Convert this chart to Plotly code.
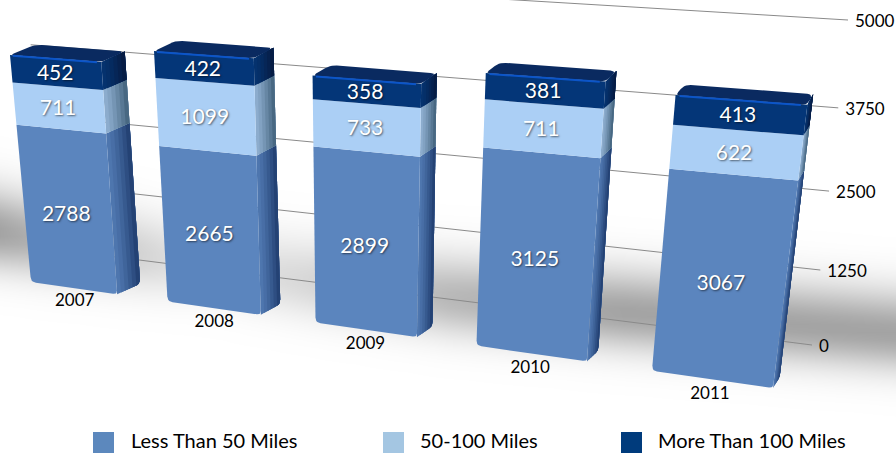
import numpy as np
import plotly.graph_objects as go

# ---- data ----
years = ["2007", "2008", "2009", "2010", "2011"]
less_than_50 = [2788, 2665, 2899, 3125, 3067]
miles_50_100 = [711, 1099, 733, 711, 622]
more_than_100 = [452, 422, 358, 381, 413]
tick_values = [0, 1250, 2500, 3750, 5000]
tick_labels = ["0", "1250", "2500", "3750", "5000"]
series_names = ["Less Than 50 Miles", "50-100 Miles", "More Than 100 Miles"]

# ---- styles ----
FONT = "Lato"
front_cols = ["#5b85be", "#abcff5", "#043678"]
side_near = [(78, 118, 174), (140, 172, 205), (5, 50, 110)]
side_far = [(36, 66, 116), (72, 104, 130), (6, 28, 68)]
top_col = "#0a2a60"
legend_cols = ["#5c88bd", "#a4c6e2", "#003b7c"]
HW = 0.32


def homography(src, dst):
    A, b = [], []
    for (u, v), (x, y) in zip(src, dst):
        A.append([u, v, 1, 0, 0, 0, -u * x, -v * x]); b.append(x)
        A.append([0, 0, 0, u, v, 1, -u * y, -v * y]); b.append(y)
    h = np.linalg.solve(np.array(A, float), np.array(b, float))
    H = np.append(h, 1).reshape(3, 3)

    def f(u, v):
        p = H @ np.array([u, v, 1.0])
        return float(p[0] / p[2]), float(p[1] / p[2])
    return f


# camera: front plane of the bars and the back wall of the chart
front = homography(
    [(-HW, 0), (4 + HW, 0), (-HW, 3951), (4 + HW, 3951)],
    [(31, 282), (773, 388), (10, 55), (806, 116)],
)
wall = homography(
    [(0, 0), (1, 0), (0, 5000), (1, 5000)],
    [(60, 250), (812, 345), (20, -30), (848, 20)],
)


def depth(p, t=1.0):
    return (p[0] + t * (5 + 0.025 * (840 - p[0])), p[1] - t * 10.5)


def rounded(pts, radii, n=6):
    out = []
    m = len(pts)
    for i in range(m):
        p = np.array(pts[i]); a = np.array(pts[i - 1]); b = np.array(pts[(i + 1) % m])
        r = radii[i]
        if r <= 0:
            out.append(tuple(p)); continue
        d1 = (a - p) / np.linalg.norm(a - p); d2 = (b - p) / np.linalg.norm(b - p)
        s = p + d1 * r; e = p + d2 * r
        for t in np.linspace(0, 1, n):
            out.append(tuple((1 - t) ** 2 * s + 2 * t * (1 - t) * p + t ** 2 * e))
    return out


fig = go.Figure()

# soft floor shadow
sx = np.arange(0, 905, 16.0)
sy = np.arange(100, 460, 8.0)
amp_x = [0, 100, 200, 300, 450, 620, 800, 896]
amp_y = [.36, .22, .10, .15, .28, .36, .36, .36]
cen_x = [0, 300, 450, 620, 896]
cen_y = [232, 280, 298, 312, 333]
zz = []
for y in sy:
    row = []
    for x in sx:
        yc = float(np.interp(x, cen_x, cen_y))
        sig = 42 if y < yc else 36
        row.append(float(np.interp(x, amp_x, amp_y) * np.exp(-((y - yc) / sig) ** 2)))
    zz.append(row)
fig.add_trace(go.Heatmap(x=sx, y=sy, z=zz, zmin=0, zmax=1, zsmooth="best", showscale=False,
                         colorscale=[[0, "#ffffff"], [1, "#000000"]], hoverinfo="skip"))


def poly(pts, color):
    xs = [p[0] for p in pts] + [pts[0][0]]
    ys = [p[1] for p in pts] + [pts[0][1]]
    fig.add_trace(go.Scatter(x=xs, y=ys, mode="lines", fill="toself", fillcolor=color,
                             line=dict(width=0, color=color), hoverinfo="skip", showlegend=False))


# gridlines on the back wall
for v in tick_values:
    a, b = wall(0, v), wall(1, v)
    fig.add_trace(go.Scatter(x=[a[0], b[0]], y=[a[1], b[1]], mode="lines",
                             line=dict(color="#8a8a8a", width=1), hoverinfo="skip", showlegend=False))

# tick labels
tx, ty = [], []
for v in tick_values:
    p = wall(1, v)
    tx.append(p[0] + 7); ty.append(p[1] + 2.5)
fig.add_trace(go.Scatter(x=tx, y=ty, mode="text", text=tick_labels, textposition="middle right",
                         textfont=dict(family=FONT, size=17, color="#000000"),
                         hoverinfo="skip", showlegend=False))

# bars
N_STRIPS = 6
lab_x, lab_y, lab_t = [], [], []
cat_x, cat_y = [], []
for i, yr in enumerate(years):
    vals = [less_than_50[i], miles_50_100[i], more_than_100[i]]
    base = 0
    for s, val in enumerate(vals):
        top = base + val
        bl, br = front(i - HW, base), front(i + HW, base)
        tl, tr = front(i - HW, top), front(i + HW, top)
        # side face: overlapping layers, each reaching the back edge, so no seams appear
        for k in range(N_STRIPS):
            t0 = k / N_STRIPS
            mix = (k / (N_STRIPS - 1)) ** 1.2
            rgb = [round(a + (b - a) * mix) for a, b in zip(side_near[s], side_far[s])]
            col = f"rgb({rgb[0]},{rgb[1]},{rgb[2]})"
            radii = [0, 5 if s == 0 else 0, 0, 0]
            poly(rounded([depth(br, t0), depth(br), depth(tr), depth(tr, t0)], radii), col)
        r_front = [5, 4, 0, 0] if s == 0 else [0, 0, 0, 0]
        poly(rounded([bl, br, tr, tl], r_front), front_cols[s])
        if s == 2:
            poly(rounded([tl, tr, depth(tr), depth(tl)], [4, 5, 6, 6]), top_col)
            a, b = front(i - HW + 0.02, top - 10), front(i + HW - 0.03, top - 10)
            fig.add_trace(go.Scatter(x=[a[0], b[0]], y=[a[1], b[1]], mode="lines",
                                     line=dict(color="#0c55c8", width=2),
                                     hoverinfo="skip", showlegend=False))
        c = front(i, base + val / 2)
        lab_x.append(c[0] - 1); lab_y.append(c[1] + (5 if s == 0 else 2)); lab_t.append(str(val))
        base = top
    p = front(i, -255)
    cat_x.append(p[0]); cat_y.append(p[1])

fig.add_trace(go.Scatter(x=lab_x, y=lab_y, mode="text", text=lab_t, textposition="middle center",
                         textfont=dict(family=FONT, size=21, color="#ffffff",
                                       shadow="1px 1px 2px rgba(0,0,0,0.55)"),
                         hoverinfo="skip", showlegend=False))
fig.add_trace(go.Scatter(x=cat_x, y=cat_y, mode="text", text=years, textposition="middle center",
                         textfont=dict(family=FONT, size=17, color="#000000"),
                         hoverinfo="skip", showlegend=False))

# legend row
leg_x = [103.5, 393.5, 631.5]
leg_tx = [131, 420, 658]
for name, c, sxp, txp in zip(series_names, legend_cols, leg_x, leg_tx):
    fig.add_trace(go.Scatter(x=[sxp], y=[442.5], mode="markers", marker=dict(symbol="square", size=21, color=c),
                             hoverinfo="skip", showlegend=False))
    fig.add_trace(go.Scatter(x=[txp], y=[443], mode="text", text=[name], textposition="middle right",
                             textfont=dict(family=FONT, size=20, color="#000000"),
                             hoverinfo="skip", showlegend=False))

fig.update_layout(
    width=896, height=455, margin=dict(l=0, r=0, t=0, b=0),
    paper_bgcolor="#ffffff", plot_bgcolor="#ffffff", showlegend=False,
    xaxis=dict(range=[0, 896], visible=False, fixedrange=True),
    yaxis=dict(range=[455, 0], visible=False, fixedrange=True),
)
fig.write_html("out.html", config={"displayModeBar": False},
               post_script="document.body.style.margin='0';document.body.style.overflow='hidden';")
